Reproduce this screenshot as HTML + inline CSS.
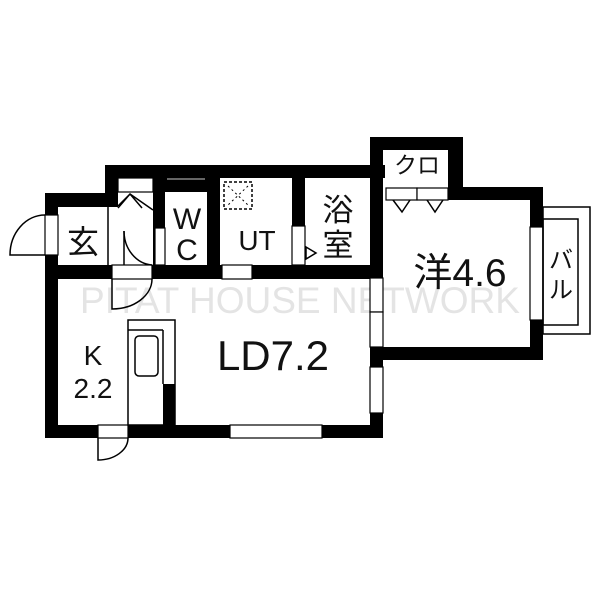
<!DOCTYPE html>
<html><head><meta charset="utf-8"><style>
body{margin:0;background:#fff}
svg{display:block}
text{font-family:"Liberation Sans","Noto Sans CJK JP",sans-serif;fill:#111}
</style></head><body>
<svg width="600" height="600" viewBox="0 0 600 600" xmlns="http://www.w3.org/2000/svg">
<rect width="600" height="600" fill="#fff"/>
<text x="300" y="313" font-size="37" text-anchor="middle" style="fill:#e4e4e4">PITAT HOUSE NETWORK</text>
<g fill="#000">
<rect x="105" y="165" width="280" height="13"/>
<rect x="105" y="165" width="13" height="42"/>
<rect x="45" y="193" width="73" height="14"/>
<rect x="45" y="193" width="13" height="245"/>
<rect x="45" y="425" width="338" height="13"/>
<rect x="45" y="265" width="338" height="14"/>
<rect x="153" y="165" width="12" height="100"/>
<rect x="207" y="165" width="13" height="100"/>
<rect x="165" y="165" width="42" height="27"/>
<rect x="292" y="165" width="13" height="100"/>
<rect x="370" y="137" width="13" height="301"/>
<rect x="370" y="137" width="93" height="13"/>
<rect x="448" y="137" width="15" height="63"/>
<rect x="448" y="187" width="95" height="13"/>
<rect x="530" y="187" width="13" height="173"/>
<rect x="370" y="347" width="173" height="13"/>
<rect x="163" y="384" width="12" height="41"/>
</g>
<g fill="#fff" stroke="#000" stroke-width="1.2">
<rect x="45" y="215" width="13" height="40"/>
<rect x="112" y="265" width="40" height="14"/>
<rect x="222" y="265" width="30" height="14"/>
<rect x="155" y="228" width="10" height="37"/>
<rect x="292" y="226" width="13" height="39"/>
<rect x="386" y="188" width="31" height="12"/>
<rect x="417" y="188" width="31" height="12"/>
<rect x="370" y="278" width="13" height="34"/>
<rect x="370" y="312" width="13" height="35"/>
<rect x="370" y="367" width="13" height="46"/>
<rect x="530" y="227" width="13" height="93"/>
<rect x="230" y="425" width="92" height="13"/>
<rect x="98" y="425" width="30" height="13"/>
<rect x="118" y="178" width="35" height="14"/>
</g>
<g fill="none" stroke="#000" stroke-width="1.5">
<line x1="108" y1="207" x2="108" y2="265"/>
<path d="M45 255 L10 255 A35 40 0 0 1 45 215"/>
<path d="M124 231 A30 34 0 0 0 152 265"/>
<line x1="124" y1="231" x2="124" y2="265"/>
<path d="M112 279 L112 309 A40 30 0 0 0 152 279"/>
<path d="M118 208 L130 194 L142 208 M130 194 L153 210 M130 194 L118 206"/>
<line x1="167" y1="179" x2="205" y2="179" stroke="#888"/>
<path d="M98 438 L98 460 A30 22 0 0 0 128 438"/>
<rect x="128" y="320" width="47" height="105"/>
<line x1="128" y1="330" x2="163" y2="330"/>
<line x1="163" y1="330" x2="163" y2="384"/>
<rect x="135" y="336" width="23" height="40" rx="4"/>
<rect x="543" y="207" width="47" height="127"/>
<rect x="543" y="219" width="35" height="106"/>
<path d="M393 200 L402 212 L410 200 M427 200 L435 212 L443 200"/>
<path d="M306 247 L316 253 L306 259 Z"/>
</g>
<rect x="224" y="182" width="28" height="27" fill="none" stroke="#000" stroke-width="1.5" stroke-dasharray="3,2"/>
<path d="M228 186 L248 205 M248 186 L228 205" stroke="#000" stroke-width="1" stroke-dasharray="2,3"/>
<text x="83" y="253" font-size="32" text-anchor="middle">玄</text>
<text x="187" y="229" font-size="30" text-anchor="middle">W</text>
<text x="187" y="260" font-size="30" text-anchor="middle">C</text>
<text x="257" y="250" font-size="28" text-anchor="middle">UT</text>
<text x="338" y="221" font-size="31" text-anchor="middle">浴</text>
<text x="338" y="256" font-size="31" text-anchor="middle">室</text>
<text x="417" y="173" font-size="23" text-anchor="middle">クロ</text>
<text x="460" y="286" font-size="39" text-anchor="middle">洋4.6</text>
<text x="273" y="370" font-size="42" text-anchor="middle">LD7.2</text>
<text x="93" y="365" font-size="28" text-anchor="middle">K</text>
<text x="93" y="398" font-size="28" text-anchor="middle">2.2</text>
<text x="561" y="268" font-size="24" text-anchor="middle">バ</text>
<text x="561" y="298" font-size="24" text-anchor="middle">ル</text>
</svg>
</body></html>
